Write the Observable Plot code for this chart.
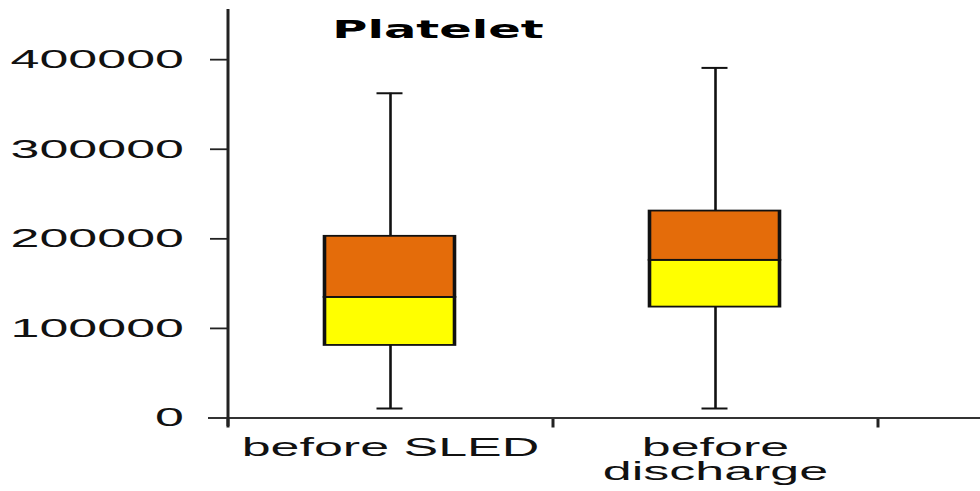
<!DOCTYPE html>
<html>
<head>
<meta charset="utf-8">
<script src="https://cdn.jsdelivr.net/npm/d3@7"></script>
<script src="https://cdn.jsdelivr.net/npm/@observablehq/plot@0.6"></script>
<style>
  html, body { margin: 0; padding: 0; background: #fff; }
  #chart { width: 980px; height: 491px; overflow: hidden; }
</style>
</head>
<body>
<div id="chart"></div>
<script>
const title = "Platelet";
const categories = ["before SLED", "before\ndischarge"];
const whiskerLow = [10600, 10600];
const q1 = [81000, 123800];
const median = [134600, 176000];
const q3 = [202800, 231000];
const whiskerHigh = [362500, 390800];
const yTicks = [0, 100000, 200000, 300000, 400000];
const boundaryTicks = [0, 1, 2];

const rows = categories.map((c, i) => ({
  cat: c, i, lo: whiskerLow[i], q1: q1[i], med: median[i], q3: q3[i], hi: whiskerHigh[i]
}));

const W = 490, H = 491; // drawn at half width, stretched 2x horizontally like the reference
const chart = Plot.plot({
  width: W,
  height: H,
  marginLeft: 113.5,
  marginRight: 51.5,
  marginTop: 9,
  marginBottom: 73.5,
  style: { fontFamily: "'Liberation Sans', Arial, sans-serif", fontSize: "26px", color: "#000", background: "#fff" },
  x: { domain: [0, 2], axis: null },
  y: { domain: [0, 456000], axis: null },
  marks: [
    // axes
    Plot.axisY({ ticks: yTicks, tickSize: 8.5, tickPadding: 13.5, tickFormat: d => String(d), strokeWidth: 1.8, stroke: "#222", fontSize: 26, fill: "#111" }),
    Plot.axisX({ ticks: boundaryTicks, tickSize: 10, tickFormat: () => "", strokeWidth: 1.5, stroke: "#222" }),
    Plot.ruleY([0], { insetLeft: -9.5, insetRight: -52, stroke: "#333", strokeWidth: 2 }),
    Plot.ruleX([0], { insetBottom: -8.5, stroke: "#222", strokeWidth: 1.5 }),
    // whiskers
    Plot.ruleX(rows, { x: d => d.i + 0.5, y1: "lo", y2: "q1", stroke: "#111", strokeWidth: 1.3 }),
    Plot.ruleX(rows, { x: d => d.i + 0.5, y1: "q3", y2: "hi", stroke: "#111", strokeWidth: 1.3 }),
    Plot.ruleY(rows, { y: "lo", x1: d => d.i + 0.46, x2: d => d.i + 0.54, stroke: "#111", strokeWidth: 2 }),
    Plot.ruleY(rows, { y: "hi", x1: d => d.i + 0.46, x2: d => d.i + 0.54, stroke: "#111", strokeWidth: 2 }),
    // boxes
    Plot.rect(rows, { x1: d => d.i + 0.3, x2: d => d.i + 0.7, y1: "q1", y2: "med", fill: "#ffff00", stroke: "#111", strokeWidth: 1.8 }),
    Plot.rect(rows, { x1: d => d.i + 0.3, x2: d => d.i + 0.7, y1: "med", y2: "q3", fill: "#e46c0a", stroke: "#111", strokeWidth: 1.8 }),
    // category labels
    Plot.text(rows, { x: d => d.i + 0.5, text: "cat", frameAnchor: "bottom", lineAnchor: "top", dy: 21, lineHeight: 0.92, fontSize: 26, fill: "#111" }),
    // title
    Plot.text([title], { frameAnchor: "top", dx: -57.5, dy: 21, lineAnchor: "middle", fontFamily: "'DejaVu Sans', Verdana, sans-serif", fontWeight: "bold", fontSize: 24, fill: "#000" })
  ]
});

chart.setAttribute("width", 980);
chart.setAttribute("height", 491);
chart.setAttribute("preserveAspectRatio", "none");
chart.style.maxWidth = "none";
chart.style.width = "980px";
chart.style.height = "491px";
document.getElementById("chart").appendChild(chart);
</script>
</body>
</html>
